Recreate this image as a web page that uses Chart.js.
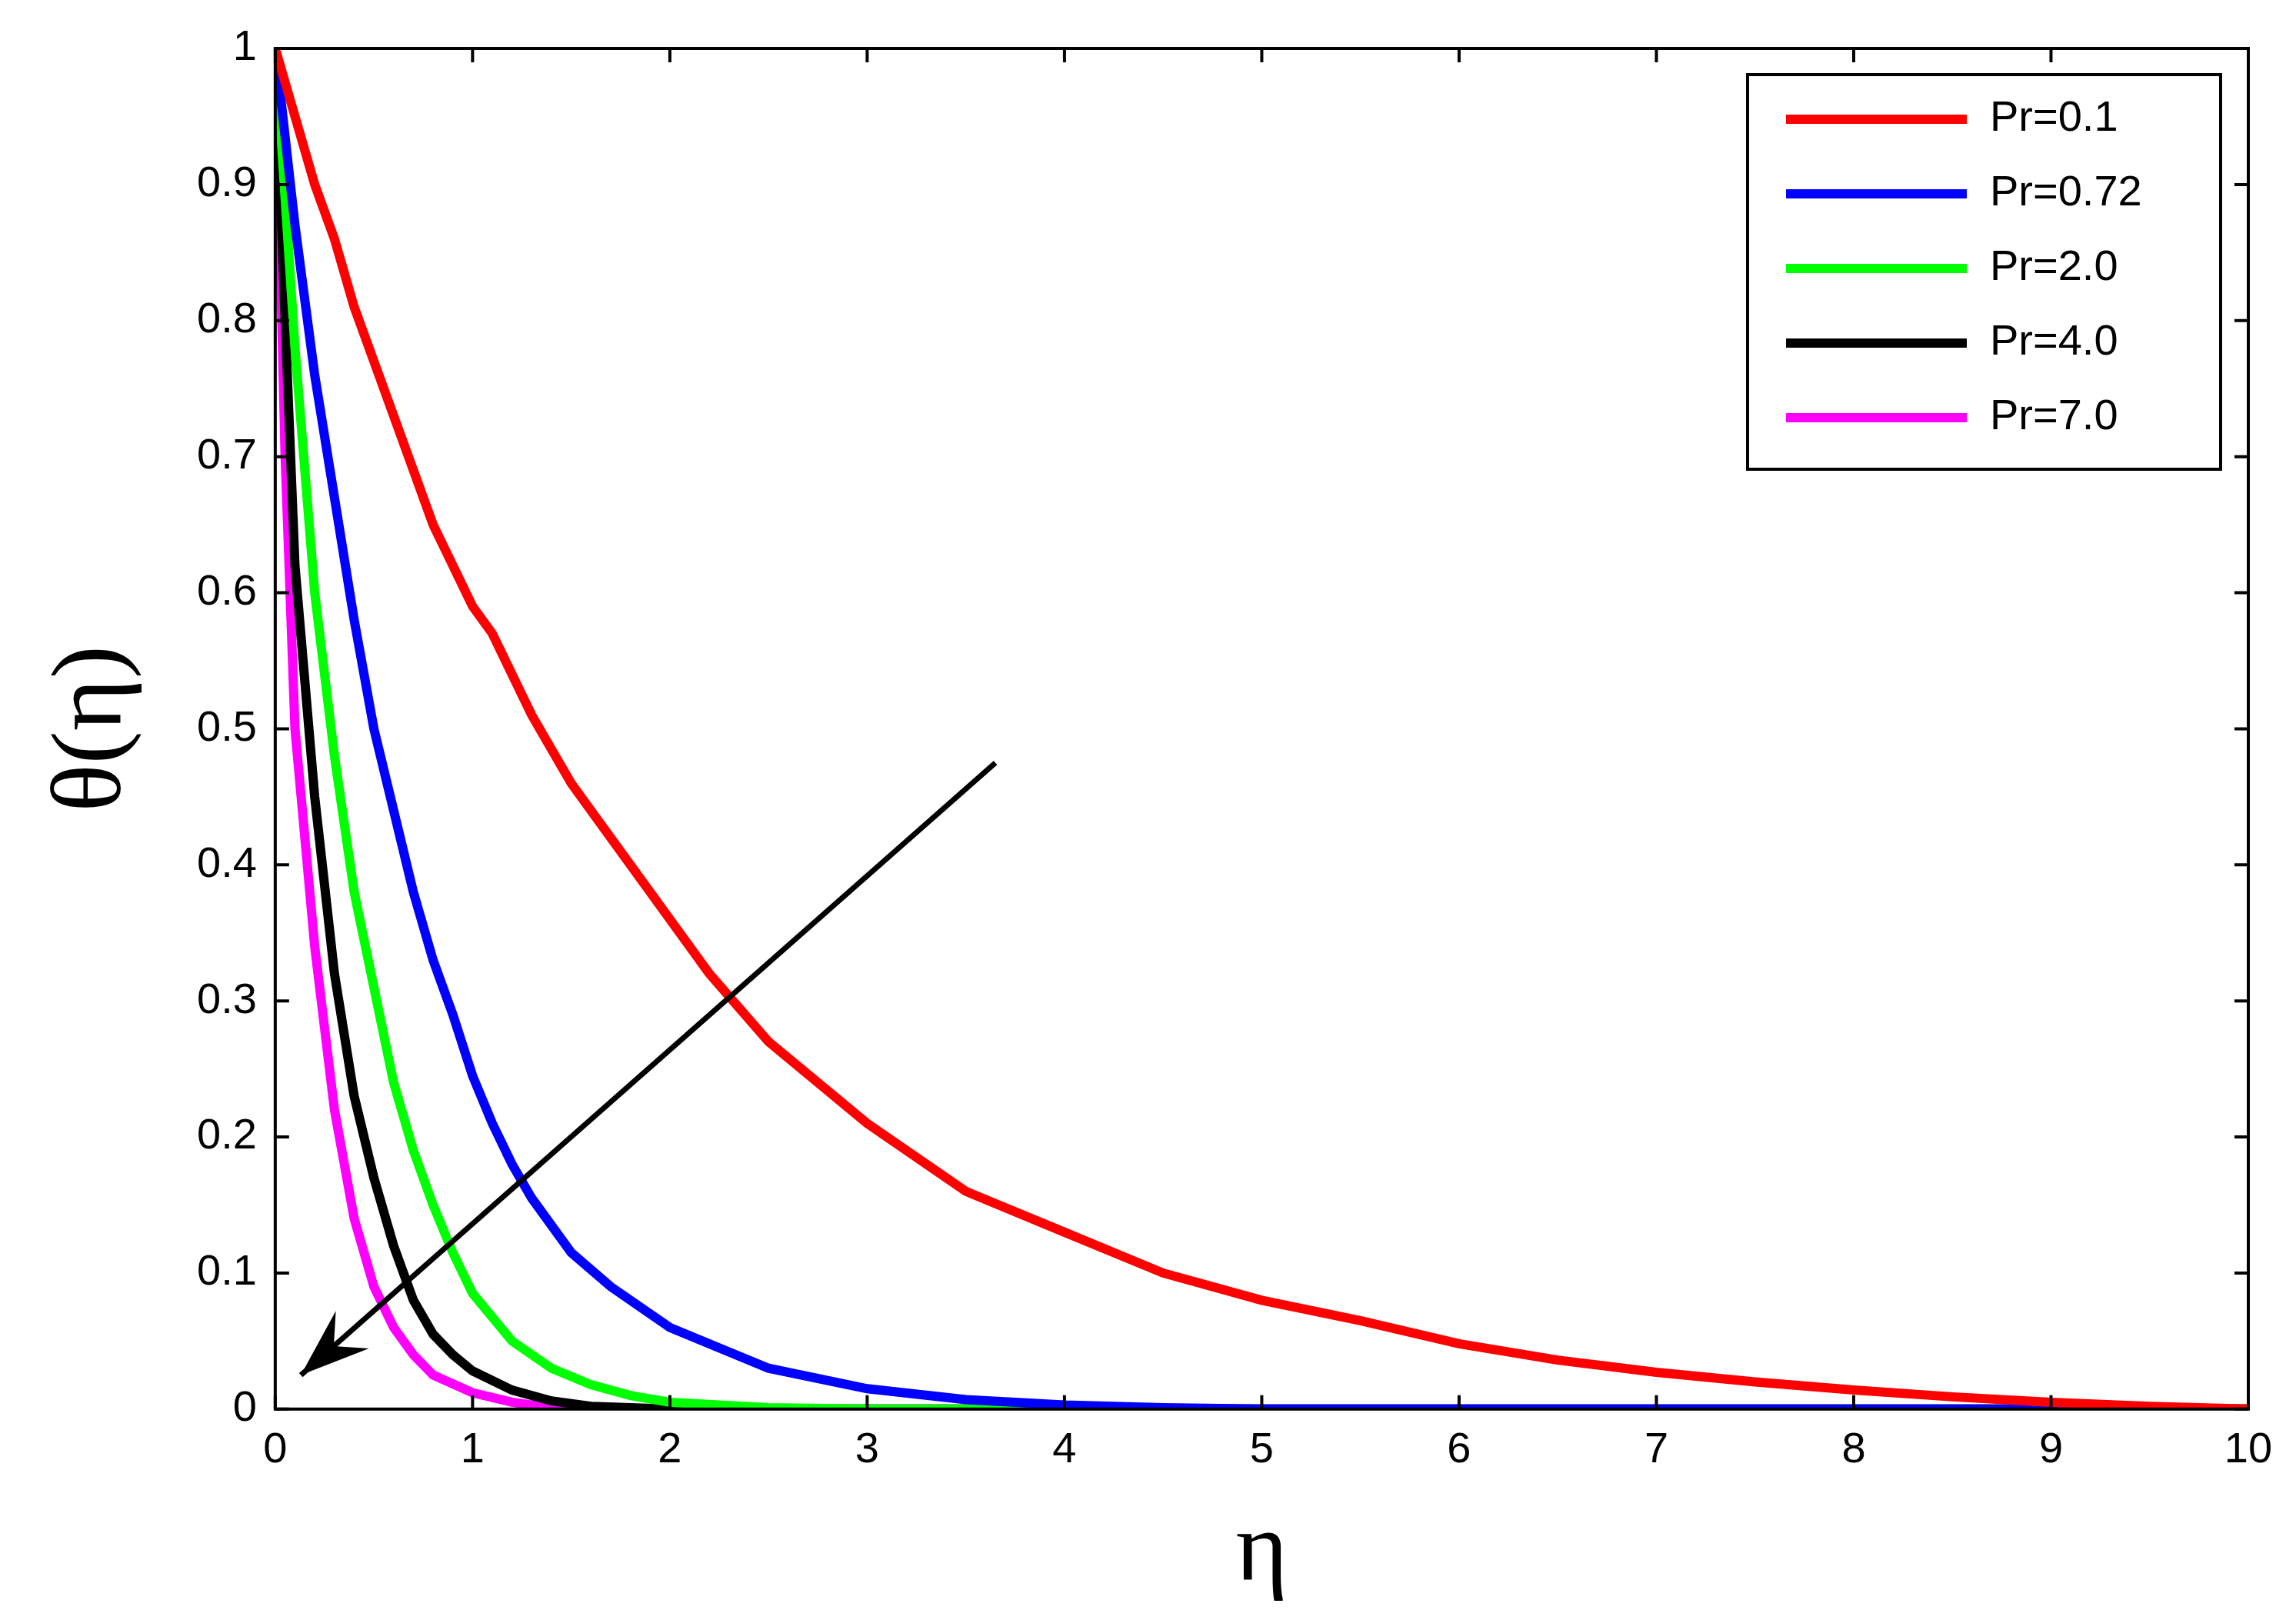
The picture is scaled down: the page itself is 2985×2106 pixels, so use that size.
<!DOCTYPE html>
<html><head><meta charset="utf-8">
<script src="https://cdn.jsdelivr.net/npm/chart.js@4.4.0/dist/chart.umd.min.js"></script>
<style>html,body{margin:0;padding:0;background:#fff}#w{width:2985px;height:2106px}</style>
</head><body><div id="w"><canvas id="c"></canvas></div>
<script>
const labels=["Pr=0.1","Pr=0.72","Pr=2.0","Pr=4.0","Pr=7.0"];
const colors=["#ff0000","#0000ff","#00ff00","#000000","#ff00ff"];
const xTicks=[0,1,2,3,4,5,6,7,8,9,10];
const yTicks=[0,0.1,0.2,0.3,0.4,0.5,0.6,0.7,0.8,0.9,1];
const etaRed=[0,0.1,0.2,0.3,0.4,0.5,0.6,0.7,0.8,0.9,1,1.1,1.3,1.5,1.7,2,2.2,2.5,3,3.5,4,4.5,5,5.5,6,6.5,7,7.5,8,8.5,9,9.5,10];
const thRed=[1,0.95,0.9,0.86,0.81,0.77,0.73,0.69,0.65,0.62,0.59,0.57,0.51,0.46,0.42,0.36,0.32,0.27,0.21,0.16,0.13,0.1,0.08,0.065,0.048,0.036,0.027,0.02,0.014,0.009,0.005,0.002,0];
const etaBlue=[0,0.1,0.2,0.3,0.4,0.5,0.6,0.7,0.8,0.9,1,1.1,1.2,1.3,1.5,1.7,2,2.5,3,3.5,4,4.5,5,10];
const thBlue=[1,0.87,0.76,0.67,0.58,0.5,0.44,0.38,0.33,0.29,0.245,0.21,0.18,0.155,0.115,0.09,0.06,0.03,0.015,0.007,0.003,0.001,0,0];
const etaGreen=[0,0.1,0.2,0.3,0.4,0.5,0.6,0.7,0.8,0.9,1,1.2,1.4,1.6,1.8,2,2.5,3,10];
const thGreen=[1,0.78,0.6,0.48,0.38,0.31,0.24,0.19,0.15,0.115,0.085,0.05,0.03,0.018,0.01,0.005,0.001,0,0];
const etaBlack=[0,0.05,0.1,0.2,0.3,0.4,0.5,0.6,0.7,0.8,0.9,1,1.2,1.4,1.6,2,10];
const thBlack=[1,0.8,0.62,0.45,0.32,0.23,0.17,0.12,0.08,0.055,0.04,0.028,0.014,0.006,0.002,0,0];
const etaMag=[0,0.05,0.1,0.2,0.3,0.4,0.5,0.6,0.7,0.8,1,1.2,1.4,1.6,10];
const thMag=[1,0.7,0.5,0.34,0.22,0.14,0.09,0.06,0.04,0.025,0.012,0.005,0.001,0,0];
const arrowFrom=[3.65,0.475], arrowTo=[0.13,0.025];
const series=[[etaRed,thRed],[etaBlue,thBlue],[etaGreen,thGreen],[etaBlack,thBlack],[etaMag,thMag]];
const datasets=series.map((s,i)=>({label:labels[i],data:s[0].map((x,j)=>({x,y:s[1][j]})),borderColor:colors[i],borderWidth:12,pointRadius:0,tension:0,fill:false}));
const deco={id:'deco',afterDraw(ch){
 const c=ch.ctx,a=ch.chartArea,xs=ch.scales.x,ys=ch.scales.y;
 c.save();c.strokeStyle='#000';c.lineWidth=4;c.strokeRect(a.left,a.top,a.right-a.left,a.bottom-a.top);
 const L=18;
 xTicks.forEach(t=>{const p=xs.getPixelForValue(t);c.beginPath();c.moveTo(p,a.bottom);c.lineTo(p,a.bottom-L);c.moveTo(p,a.top);c.lineTo(p,a.top+L);c.stroke();});
 yTicks.forEach(t=>{const p=ys.getPixelForValue(t);c.beginPath();c.moveTo(a.left,p);c.lineTo(a.left+L,p);c.moveTo(a.right,p);c.lineTo(a.right-L,p);c.stroke();});
 const x1=xs.getPixelForValue(arrowFrom[0]),y1=ys.getPixelForValue(arrowFrom[1]),x2=xs.getPixelForValue(arrowTo[0]),y2=ys.getPixelForValue(arrowTo[1]);
 c.fillStyle='#000';c.lineWidth=7;c.beginPath();c.moveTo(x1,y1);c.lineTo(x2,y2);c.stroke();
 const ang=Math.atan2(y2-y1,x2-x1),h=95;
 c.beginPath();c.moveTo(x2,y2);c.lineTo(x2-h*Math.cos(ang-0.35),y2-h*Math.sin(ang-0.35));c.lineTo(x2-h*0.6*Math.cos(ang),y2-h*0.6*Math.sin(ang));c.lineTo(x2-h*Math.cos(ang+0.35),y2-h*Math.sin(ang+0.35));c.closePath();c.fill();
 const lx=2272,ly=97,lw=615,lh=513;
 c.fillStyle='#fff';c.fillRect(lx,ly,lw,lh);c.lineWidth=4;c.strokeRect(lx,ly,lw,lh);
 c.font='56px Arial, "Liberation Sans", sans-serif';c.textBaseline='middle';
 labels.forEach((l,i)=>{const yy=ly+58+i*97;c.strokeStyle=colors[i];c.lineWidth=12;c.beginPath();c.moveTo(lx+50,yy);c.lineTo(lx+285,yy);c.stroke();c.fillStyle='#000';c.fillText(l,lx+315,yy);});
 c.restore();}};
new Chart(document.getElementById('c'),{type:'line',data:{datasets},plugins:[deco],
options:{responsive:true,maintainAspectRatio:false,animation:false,
layout:{padding:{left:40,right:62,top:63,bottom:5}},
plugins:{legend:{display:false},tooltip:{enabled:false}},
scales:{
 x:{type:'linear',min:0,max:10,grid:{display:false},border:{display:false},
  afterBuildTicks:s=>{s.ticks=xTicks.map(v=>({value:v}))},
  ticks:{color:'#000',font:{size:56,family:'Arial, "Liberation Sans", sans-serif'},padding:12,maxRotation:0,callback:v=>String(v)},
  title:{display:true,text:'η',color:'#000',font:{size:130,family:'"Liberation Serif", "DejaVu Serif", serif'},padding:{top:10}}},
 y:{type:'linear',min:0,max:1,grid:{display:false},border:{display:false},
  afterBuildTicks:s=>{s.ticks=yTicks.map(v=>({value:v}))},
  ticks:{color:'#000',font:{size:56,family:'Arial, "Liberation Sans", sans-serif'},padding:16,callback:v=>String(v)},
  title:{display:true,text:'θ(η)',color:'#000',font:{size:130,family:'"Liberation Serif", "DejaVu Serif", serif'},padding:{bottom:40}}}
}}});
</script></body></html>
